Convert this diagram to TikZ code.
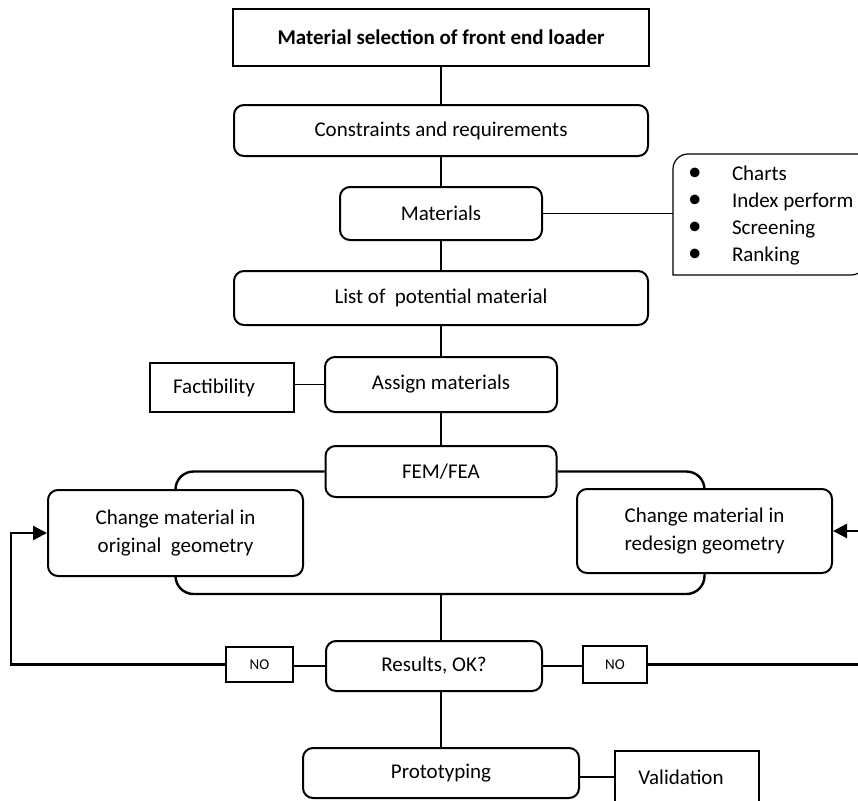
\documentclass[tikz,border=0pt]{standalone}
\usepackage{fontspec}
\setmainfont{Carlito}
\usetikzlibrary{arrows.meta}

\tikzset{
  heading/.style={draw, line width=2pt, inner sep=0pt, align=center,
    font=\fontsize{21}{28}\selectfont\bfseries},
  stage/.style={draw, line width=2pt, rounded corners=10pt, inner sep=0pt,
    align=center, font=\fontsize{21}{28}\selectfont},
  tag/.style={draw, line width=1.2pt, inner sep=0pt, align=center,
    font=\fontsize{21}{28}\selectfont},
  link/.style={line width=1.2pt},
  flow/.style={line width=2.4pt},
}
\newcommand{\toolitem}{\makebox[44pt][l]{\fontsize{27}{27}\selectfont\textbullet}}

\begin{document}
\begin{tikzpicture}[x=1pt, y=-1pt]

% Page frame (pixel units, y pointing down)
\useasboundingbox (0,0) rectangle (858,800);
\clip (0,0) rectangle (858,800);

% Main column
\node[heading, minimum width=416pt, minimum height=57pt] (title) at (441,37.5) {Material selection of front end loader};
\node[stage, minimum width=414pt, minimum height=51pt] (needs) at (441,130.5) {Constraints and requirements};
\node[stage, minimum width=202pt, minimum height=53pt] (materials) at (441,213.5) {Materials};
\node[stage, minimum width=414pt, minimum height=54pt] (shortlist) at (441,298) {List of\ \ potential material};
\node[stage, minimum width=232pt, minimum height=55pt] (assign) at (441,384.5) {Assign materials};
\node[stage, minimum width=231pt, minimum height=51pt] (fem) at (441,471.5) {FEM/FEA};
\node[stage, minimum width=216pt, minimum height=50pt] (results) at (434,666) {Results, OK?};
\node[stage, minimum width=276pt, minimum height=50pt] (proto) at (441,773) {Prototyping};

% Side boxes
\node[tag, minimum width=144pt, minimum height=49pt] (feasible) at (222,387.5) {Factibility\hspace{16pt}};
\node[tag, minimum width=144pt, minimum height=52pt] (check) at (687,777) {Validation\hspace{12pt}};
\node[tag, font=\fontsize{15}{18}\selectfont, minimum width=67pt, minimum height=35pt] (noleft) at (259.5,664.5) {NO};
\node[tag, font=\fontsize{15}{18}\selectfont, minimum width=64pt, minimum height=37pt] (noright) at (615,664.5) {NO};

% The two redesign options
\node[stage, minimum width=255pt, minimum height=86pt] (orig) at (175.5,533) {Change material in\\original\ \ geometry};
\node[stage, minimum width=255pt, minimum height=84pt] (redesign) at (704.5,531) {Change material in\\redesign geometry};

% Tool list, frame runs past the right edge
\node[anchor=west, inner xsep=15pt, inner ysep=0pt, outer sep=0pt, align=left,
  font=\fontsize{21}{27}\selectfont] (tools) at (673,215.5)
  {\toolitem Charts\\
   \toolitem Index perform\\
   \toolitem Screening\\
   \toolitem Ranking};
\draw[link] (673,275) -- (673,169) arc[start angle=180, end angle=270, radius=15]
  -- (866,154) -- (866,260) arc[start angle=0, end angle=90, radius=15] -- cycle;

% Vertical links
\draw[link] (title) -- (needs);
\draw[link] (needs) -- (materials);
\draw[link] (materials) -- (shortlist);
\draw[link] (shortlist) -- (assign);
\draw[link] (assign) -- (fem);

% Side links
\draw[link] (materials.east) -- (materials.east -| tools.west);
\draw[link] (assign.west -| feasible.east) -- (assign.west);
\draw[link] (check.west -| proto.east) -- (check.west);

% FEM loop around both options
\coordinate (loopbot) at (441,594);
\draw[flow, rounded corners=18pt] (fem.west) -| (orig.north);
\draw[flow, rounded corners=18pt] (fem.east) -| (redesign.north);
\draw[flow, rounded corners=18pt] (orig.south) |- (loopbot) -| (redesign.south);
\draw[link] (loopbot) -- (loopbot |- results.north);
\draw[link] (results.south -| proto.north) -- (proto.north);

% Feedback when the result fails
\draw[flow] (results.west) -- (results.west -| noleft.east);
\draw[flow, -{Triangle[length=14pt, width=14pt]}] (noleft.west) -| ([xshift=-36pt]orig.west) -- (orig.west);
\draw[flow] (results.east) -- (results.east -| noright.west);
\draw[flow, -{Triangle[length=14pt, width=14pt]}] (noright.east) -| ([xshift=34pt]redesign.east) -- (redesign.east);

\end{tikzpicture}
\end{document}
